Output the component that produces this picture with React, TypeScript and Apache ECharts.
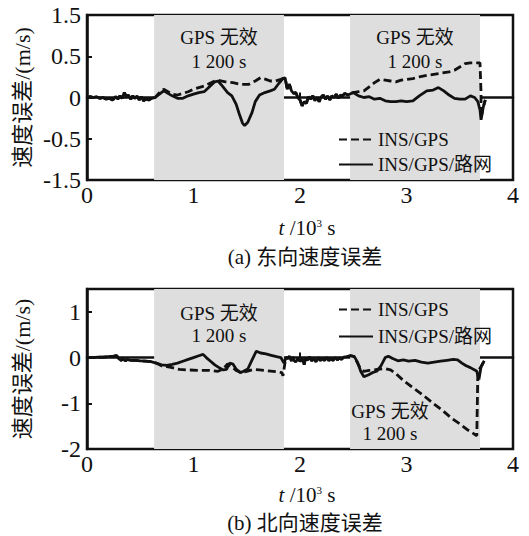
import React, { useEffect, useRef } from 'react';
import * as echarts from 'echarts';

const FONT = "'Liberation Serif', 'Times New Roman', 'Noto Sans CJK SC', serif";
const INK = '#111';

// GPS outage windows (10^3 s)
const gapWindows: [number, number][] = [[0.63, 1.85], [2.47, 3.69]];

// X ticks
const xTickMin = 0;
const xTickMax = 4;

// East: y-axis tick positions and printed labels (the printed scale is non-linear)
const eastTickValues = [-1, -0.5, 0, 0.5, 1];
const eastTickLabels = ['-1.5', '-0.5', '0', '0.5', '1.5'];
// North tick labels
const northTickValues = [-2, -1, 0, 1];
const northTickLabels = ['-2', '-1', '0', '1'];

// ---------- East velocity error (m/s) ----------
const eastStart: [number, number][] = [
  [0, 0], [0.03, 0.01], [0.06, 0], [0.09, 0.01], [0.12, -0.01], [0.15, 0], [0.18, -0.02],
  [0.21, -0.01], [0.24, -0.03], [0.27, 0.01], [0.29, -0.02], [0.31, 0.02], [0.33, -0.01],
  [0.35, 0.06], [0.37, 0.01], [0.39, 0.03], [0.41, -0.02], [0.43, 0.02], [0.45, -0.01],
  [0.47, 0.02], [0.49, -0.03], [0.51, 0.01], [0.53, -0.04], [0.55, -0.02], [0.58, -0.03], [0.61, -0.01],
];
const eastGap1Road: [number, number][] = [
  [0.64, 0.0], [0.68, 0.04], [0.72, 0.08], [0.76, 0.05], [0.8, 0.02], [0.85, -0.01], [0.9, -0.01],
  [0.95, 0.02], [1.0, 0.04], [1.05, 0.06], [1.1, 0.07], [1.15, 0.13], [1.2, 0.19], [1.23, 0.2],
  [1.27, 0.14], [1.32, 0.06], [1.36, 0.02], [1.4, -0.08], [1.43, -0.2], [1.46, -0.31], [1.48, -0.34],
  [1.51, -0.3], [1.55, -0.18], [1.58, -0.05], [1.62, 0.03], [1.67, 0.06], [1.72, 0.08], [1.76, 0.1],
  [1.8, 0.17], [1.84, 0.23], [1.86, 0.24],
];
const eastGap1Gps: [number, number][] = [
  [0.64, 0.0], [0.68, 0.06], [0.72, 0.1], [0.76, 0.07], [0.8, 0.04], [0.85, 0.03], [0.9, 0.05],
  [0.95, 0.07], [1.0, 0.1], [1.05, 0.12], [1.1, 0.14], [1.15, 0.17], [1.2, 0.2], [1.23, 0.21],
  [1.3, 0.19], [1.37, 0.18], [1.44, 0.16], [1.52, 0.16], [1.58, 0.2], [1.63, 0.24], [1.68, 0.22],
  [1.72, 0.2], [1.77, 0.2], [1.82, 0.22], [1.86, 0.24],
];
const eastMid: [number, number][] = [
  [1.88, 0.1], [1.9, 0.16], [1.92, 0.08], [1.94, 0.05], [1.96, 0.06], [1.98, 0.0], [2.0, -0.03],
  [2.02, -0.1], [2.04, -0.05], [2.06, -0.07], [2.08, 0.01], [2.1, -0.02], [2.12, 0.02], [2.14, -0.04],
  [2.16, 0.0], [2.18, -0.05], [2.2, 0.01], [2.22, 0.03], [2.24, -0.02], [2.26, 0.02], [2.28, -0.03],
  [2.3, 0.02], [2.32, 0.0], [2.34, 0.04], [2.36, -0.01], [2.38, 0.03], [2.4, 0.02], [2.42, 0.05], [2.45, 0.03],
];
const eastGap2Road: [number, number][] = [
  [2.5, 0.06], [2.55, 0.02], [2.6, 0.0], [2.65, 0.01], [2.7, -0.02], [2.75, -0.01], [2.8, -0.04],
  [2.85, -0.05], [2.9, -0.05], [2.95, -0.04], [3.0, -0.05], [3.06, -0.04], [3.12, 0.02], [3.19, 0.08],
  [3.25, 0.09], [3.3, 0.12], [3.35, 0.08], [3.4, 0.03], [3.45, -0.01], [3.5, -0.02], [3.55, -0.02],
  [3.6, 0.02], [3.64, 0.0], [3.67, -0.05], [3.69, -0.15], [3.7, -0.27], [3.72, -0.12], [3.74, -0.03],
];
const eastGap2Gps: [number, number][] = [
  [2.5, 0.06], [2.55, 0.07], [2.6, 0.08], [2.65, 0.13], [2.7, 0.18], [2.75, 0.22], [2.8, 0.21],
  [2.85, 0.2], [2.9, 0.19], [2.95, 0.21], [3.0, 0.22], [3.06, 0.23], [3.12, 0.25], [3.2, 0.27],
  [3.3, 0.29], [3.4, 0.31], [3.45, 0.33], [3.5, 0.37], [3.55, 0.41], [3.6, 0.42], [3.65, 0.42],
  [3.69, 0.42], [3.7, 0.05], [3.7, -0.25], [3.72, -0.12], [3.74, -0.03],
];

// ---------- North velocity error (m/s) ----------
const northStart: [number, number][] = [
  [0, 0], [0.05, 0], [0.1, 0.01], [0.15, 0.01], [0.2, 0.02], [0.25, 0.03], [0.28, 0.04], [0.3, -0.03],
  [0.32, -0.06], [0.34, -0.03], [0.36, -0.07], [0.38, -0.04], [0.4, -0.06], [0.45, -0.06], [0.5, -0.07],
  [0.55, -0.08], [0.6, -0.09],
];
const northGap1Road: [number, number][] = [
  [0.65, -0.12], [0.7, -0.16], [0.75, -0.17], [0.8, -0.15], [0.85, -0.12], [0.9, -0.08], [0.95, -0.04],
  [1.0, 0.0], [1.05, 0.04], [1.09, 0.07], [1.12, 0.0], [1.16, -0.08], [1.2, -0.16], [1.24, -0.22],
  [1.28, -0.27], [1.31, -0.26], [1.34, -0.12], [1.37, -0.14], [1.4, -0.25], [1.44, -0.33], [1.47, -0.3],
  [1.51, -0.25], [1.55, -0.05], [1.59, 0.14], [1.63, 0.1], [1.68, 0.08], [1.73, 0.05], [1.78, 0.02],
  [1.82, 0.0], [1.85, -0.12], [1.87, 0.0],
];
const northGap1Gps: [number, number][] = [
  [0.65, -0.12], [0.7, -0.18], [0.75, -0.2], [0.8, -0.22], [0.87, -0.26], [0.95, -0.27], [1.05, -0.28],
  [1.15, -0.28], [1.23, -0.3], [1.28, -0.25], [1.32, -0.14], [1.36, -0.2], [1.4, -0.28], [1.45, -0.33],
  [1.5, -0.3], [1.56, -0.26], [1.62, -0.27], [1.7, -0.29], [1.78, -0.31], [1.83, -0.33], [1.84, -0.4],
  [1.86, -0.1], [1.87, 0.0],
];
const northMid: [number, number][] = [
  [1.89, -0.02], [1.9, 0.03], [1.92, -0.08], [1.93, 0.01], [1.94, -0.05], [1.96, -0.1], [1.98, -0.02],
  [2.0, -0.08], [2.02, -0.03], [2.04, -0.15], [2.05, -0.01], [2.07, -0.06], [2.09, 0.01], [2.11, -0.07],
  [2.13, -0.02], [2.15, -0.09], [2.17, 0.0], [2.19, -0.07], [2.21, -0.02], [2.23, -0.06], [2.25, 0.0],
  [2.27, -0.07], [2.29, -0.02], [2.31, -0.06], [2.33, 0.0], [2.35, -0.05], [2.37, -0.01], [2.39, -0.04],
  [2.41, 0.01], [2.44, 0.02], [2.48, 0.04], [2.51, 0.02],
];
const northGap2Road: [number, number][] = [
  [2.54, -0.1], [2.57, -0.3], [2.6, -0.42], [2.64, -0.38], [2.68, -0.33], [2.72, -0.3], [2.76, -0.18],
  [2.8, 0.0], [2.83, 0.03], [2.87, -0.02], [2.92, -0.07], [2.97, -0.05], [3.02, -0.08], [3.08, -0.06],
  [3.14, -0.1], [3.2, -0.12], [3.26, -0.1], [3.32, -0.08], [3.38, -0.06], [3.44, -0.04], [3.48, -0.05],
  [3.52, -0.12], [3.56, -0.18], [3.6, -0.22], [3.64, -0.27], [3.66, -0.3], [3.68, -0.48], [3.7, -0.2], [3.73, -0.07],
];
const northGap2Gps: [number, number][] = [
  [2.54, -0.12], [2.57, -0.25], [2.6, -0.3], [2.65, -0.28], [2.7, -0.27], [2.75, -0.25], [2.8, -0.24],
  [2.85, -0.27], [2.9, -0.35], [2.97, -0.5], [3.05, -0.64], [3.16, -0.83], [3.25, -1.0], [3.34, -1.16],
  [3.42, -1.32], [3.5, -1.45], [3.58, -1.59], [3.66, -1.71], [3.67, -0.3], [3.7, -0.2], [3.73, -0.07],
];

const NAME_GPS = 'INS/GPS';
const NAME_ROAD = 'INS/GPS/路网';

export default function App() {
  const ref = useRef<HTMLDivElement>(null);
  useEffect(() => {
    if (!ref.current) return;
    const chart = echarts.init(ref.current, null, { renderer: 'svg' });

    const labelFont = { fontFamily: FONT, color: INK };
    const makeX = (gridIndex: number) => ({
      gridIndex,
      type: 'value',
      min: xTickMin,
      max: xTickMax,
      interval: 1,
      axisLine: { show: true, lineStyle: { color: INK, width: 2.5 } },
      axisTick: { show: true, inside: true, length: 5, lineStyle: { color: INK, width: 2 } },
      axisLabel: { ...labelFont, fontSize: 24, margin: 3 },
      splitLine: { show: false },
    });
    const makeY = (gridIndex: number, min: number, max: number, interval: number, vals: number[], labs: string[]) => ({
      gridIndex,
      type: 'value',
      min,
      max,
      interval,
      axisLine: { show: true, lineStyle: { color: INK, width: 2.5 } },
      axisTick: { show: true, inside: true, length: 5, lineStyle: { color: INK, width: 2 } },
      axisLabel: {
        ...labelFont,
        fontSize: 24,
        margin: 6,
        formatter: (v: number) => {
          const i = vals.findIndex((t) => Math.abs(t - v) < 1e-9);
          return i >= 0 ? labs[i] : '';
        },
      },
      splitLine: { show: false },
      name: '速度误差/(m/s)',
      nameLocation: 'middle',
      nameGap: 54,
      nameMoveOverlap: false,
      nameTextStyle: { ...labelFont, fontSize: 22 },
    });

    const lineSeries = (name: string, xi: number, data: [number, number][], dashed: boolean) => ({
      name,
      type: 'line',
      xAxisIndex: xi,
      yAxisIndex: xi,
      data,
      symbol: 'none',
      showSymbol: false,
      z: 3,
      lineStyle: { color: INK, width: 2.8, type: dashed ? [8, 4] : 'solid' },
      itemStyle: { color: INK },
    });

    const areaLabelBase = {
      show: true,
      fontFamily: FONT,
      fontSize: 19,
      color: INK,
      formatter: 'GPS 无效\n1 200 s',
    };

    const shadeSeries = (xi: number, labels: any[]) => ({
      type: 'line',
      xAxisIndex: xi,
      yAxisIndex: xi,
      data: [],
      z: -1,
      silent: true,
      markArea: {
        silent: true,
        itemStyle: { color: '#dedede' },
        data: gapWindows.map((w, k) => [
          { xAxis: w[0], label: labels[k] },
          { xAxis: w[1] },
        ]),
      },
    });

    const legendBase = {
      data: [NAME_GPS, NAME_ROAD],
      orient: 'vertical',
      left: 333,
      itemWidth: 34,
      itemHeight: 14,
      selectedMode: false,
      itemStyle: { opacity: 0 },
      textStyle: { ...labelFont, fontSize: 19 },
    };

    const xNameTitle = (top: number) => ({
      text: '{i|t} /10{s|3} s',
      left: 302,
      top,
      textAlign: 'center',
      textStyle: {
        ...labelFont,
        fontSize: 21,
        fontWeight: 'normal',
        rich: {
          i: { fontStyle: 'italic', fontSize: 21, fontFamily: FONT, color: INK },
          n: { fontSize: 21, fontFamily: FONT, color: INK },
          s: { fontSize: 11, fontFamily: FONT, color: INK, padding: [0, 0, 11, 0] },
        },
      },
    });

    chart.setOption({
      animation: false,
      backgroundColor: '#fff',
      textStyle: { fontFamily: FONT },
      title: [
        {
          text: '(a) 东向速度误差',
          left: 300,
          top: 241,
          textAlign: 'center',
          textStyle: { ...labelFont, fontSize: 21, fontWeight: 'normal' },
        },
        {
          text: '(b) 北向速度误差',
          left: 300,
          top: 507,
          textAlign: 'center',
          textStyle: { ...labelFont, fontSize: 21, fontWeight: 'normal' },
        },
        xNameTitle(212),
        xNameTitle(479),
      ],
      grid: [
        { left: 87, top: 15, width: 426, height: 165, show: true, borderColor: INK, borderWidth: 2.5, backgroundColor: 'transparent' },
        { left: 87, top: 289, width: 426, height: 160, show: true, borderColor: INK, borderWidth: 2.5, backgroundColor: 'transparent' },
      ],
      xAxis: [makeX(0), makeX(1)],
      yAxis: [
        makeY(0, -1, 1, 0.5, eastTickValues, eastTickLabels),
        makeY(1, -2, 1.5, 1, northTickValues, northTickLabels),
      ],
      legend: [
        { ...legendBase, top: 125, itemGap: 6 },
        { ...legendBase, top: 295, itemGap: 8 },
      ],
      series: [
        shadeSeries(0, [
          { ...areaLabelBase, lineHeight: 24, position: 'insideTop', offset: [0, 5] },
          { ...areaLabelBase, lineHeight: 24, position: 'insideTop', offset: [0, 5] },
        ]),
        shadeSeries(1, [
          { ...areaLabelBase, lineHeight: 22, position: 'insideTop', offset: [0, 8] },
          { ...areaLabelBase, lineHeight: 22, position: 'insideBottom', offset: [-25, 0] },
        ]),
        lineSeries(NAME_GPS, 0, [...eastStart, ...eastGap1Gps, ...eastMid, ...eastGap2Gps], true),
        lineSeries(NAME_ROAD, 0, [...eastStart, ...eastGap1Road, ...eastMid, ...eastGap2Road], false),
        lineSeries(NAME_GPS, 1, [...northStart, ...northGap1Gps, ...northMid, ...northGap2Gps], true),
        lineSeries(NAME_ROAD, 1, [...northStart, ...northGap1Road, ...northMid, ...northGap2Road], false),
      ],
    });
    return () => chart.dispose();
  }, []);
  return (
    <div
      ref={ref}
      style={{ position: 'fixed', left: 0, top: 0, width: 529, height: 536, background: '#fff' }}
    />
  );
}
